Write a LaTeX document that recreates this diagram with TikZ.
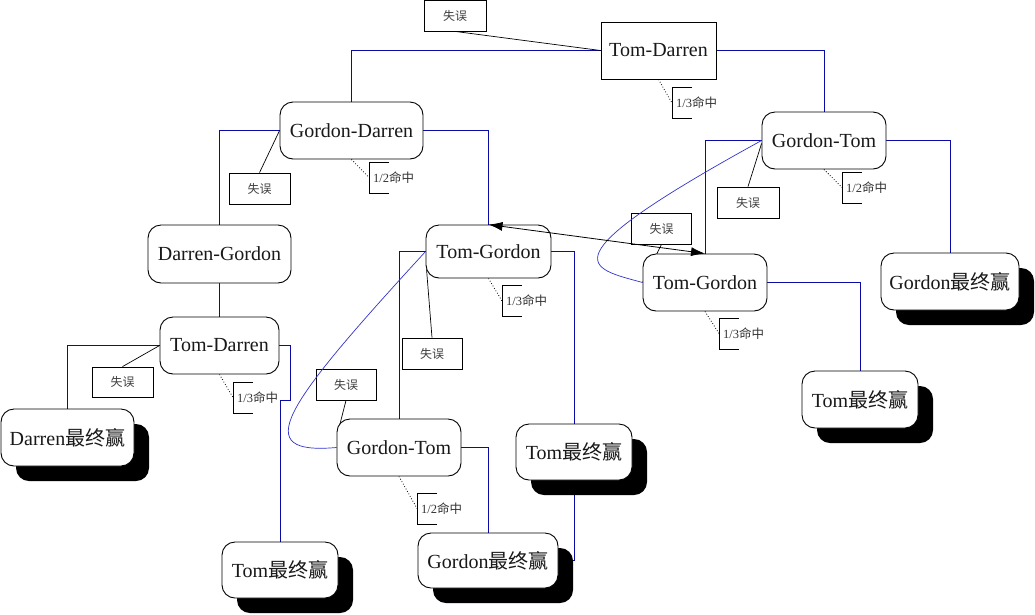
\documentclass[tikz,border=0pt]{standalone}
\usepackage{fontspec}
\setmainfont{Liberation Serif}
\newfontfamily\cjkfont{Noto Sans CJK SC}
\newcommand\zhtext[1]{{\cjkfont #1}}
\usetikzlibrary{shadows,arrows.meta,calc}
\pgfdeclarelayer{bg}
\pgfsetlayers{bg,main}
\definecolor{navyline}{RGB}{10,10,165}
\definecolor{loopblue}{RGB}{50,50,205}
\tikzset{
  statebox/.style={draw=black, line width=0.9pt, fill=white, rounded corners=13pt, inner sep=0pt,
    font=\fontsize{20}{24}\selectfont, text=black!90},
  sqbox/.style={statebox, rounded corners=0pt},
  finalbox/.style={statebox, general shadow={fill=black, shadow xshift=15pt, shadow yshift=-15pt}},
  missbox/.style={draw=black, line width=0.8pt, fill=white, inner sep=0pt, minimum width=61pt,
    minimum height=31pt, font=\fontsize{12}{14}\selectfont, text=black!75},
  flow/.style={draw=navyline, line width=0.9pt},
  loopline/.style={draw=loopblue, line width=0.7pt},
  missline/.style={draw=black, line width=0.7pt},
  dotline/.style={draw=black, line width=0.8pt, dotted},
  pics/hitmark/.style={code={
    \draw[line width=0.8pt] (20,-15.5) -- (0,-15.5) -- (0,15.5) -- (20,15.5);
    \node[anchor=west, inner sep=0pt, font=\fontsize{12.5}{14}\selectfont, text=black!80] at (4,0) {#1};
  }}
}
\begin{document}
\begin{tikzpicture}[x=1pt, y=-1pt]
\useasboundingbox (0,0) rectangle (1035,614);

% state nodes
\node[sqbox, minimum width=115pt, minimum height=57pt] (td1) at (658.5,50.5) {Tom-Darren};
\node[statebox, minimum width=143pt, minimum height=57pt] (gd) at (351.5,130.5) {Gordon-Darren};
\node[statebox, minimum width=124pt, minimum height=57pt] (gt1) at (824,140.5) {Gordon-Tom};
\node[statebox, minimum width=143pt, minimum height=58pt] (dg) at (219.5,254) {Darren-Gordon};
\node[statebox, minimum width=125pt, minimum height=53pt] (tg1) at (488.5,251.5) {Tom-Gordon};
\node[statebox, minimum width=124pt, minimum height=57pt] (tg2) at (705,282.5) {Tom-Gordon};
\node[statebox, minimum width=119pt, minimum height=57pt] (td2) at (219.5,345.5) {Tom-Darren};
\node[statebox, minimum width=124pt, minimum height=57pt] (gt2) at (399,447.5) {Gordon-Tom};

% final nodes
\node[finalbox, minimum width=133pt, minimum height=57pt] (dw) at (67.5,437.5) {Darren\zhtext{最终赢}};
\node[finalbox, minimum width=116pt, minimum height=56pt] (tw1) at (280,570) {Tom\zhtext{最终赢}};
\node[finalbox, minimum width=116pt, minimum height=56pt] (tw2) at (574,452) {Tom\zhtext{最终赢}};
\node[finalbox, minimum width=140pt, minimum height=55pt] (gw2) at (488,560.5) {Gordon\zhtext{最终赢}};
\node[finalbox, minimum width=116pt, minimum height=57pt] (tw3) at (860,399.5) {Tom\zhtext{最终赢}};
\node[finalbox, minimum width=138pt, minimum height=57pt] (gw1) at (950,281.5) {Gordon\zhtext{最终赢}};

% miss boxes
\node[missbox, minimum width=62pt] (m1) at (455,15.5) {\zhtext{失误}};
\node[missbox] (m2) at (259.5,188.5) {\zhtext{失误}};
\node[missbox, minimum width=62pt] (m3) at (748,202.5) {\zhtext{失误}};
\node[missbox, minimum width=60pt] (m4) at (661.5,228.5) {\zhtext{失误}};
\node[missbox, minimum width=60pt] (m5) at (432,353.5) {\zhtext{失误}};
\node[missbox, minimum width=60pt] (m6) at (346,384.5) {\zhtext{失误}};
\node[missbox, minimum height=30pt] (m7) at (122.5,382) {\zhtext{失误}};

% hit brackets
\coordinate (b1) at (672,103);
\coordinate (b2) at (369,177.5);
\coordinate (b3) at (842,187.5);
\coordinate (b4) at (502,301);
\coordinate (b5) at (719,333.5);
\coordinate (b6) at (233,397.5);
\coordinate (b7) at (417,508.5);
\pic at (b1) {hitmark={1/3\zhtext{命中}}};
\pic at (b2) {hitmark={1/2\zhtext{命中}}};
\pic at (b3) {hitmark={1/2\zhtext{命中}}};
\pic at (b4) {hitmark={1/3\zhtext{命中}}};
\pic at (b5) {hitmark={1/3\zhtext{命中}}};
\pic at (b6) {hitmark={1/3\zhtext{命中}}};
\pic at (b7) {hitmark={1/2\zhtext{命中}}};

\begin{pgfonlayer}{bg}
  % tree connectors
  \draw[flow] (td1.west) -| (gd.north);
  \draw[flow] (td1.east) -| (gt1.north);
  \draw[flow] (gd.west) -| (dg.north);
  \draw[flow] (gd.east) -| (tg1.north);
  \draw[flow] (gt1.west) -| (tg2.north);
  \draw[flow] (gt1.east) -| (gw1.north);
  \draw[flow] (dg.south) -- (td2.north);
  \draw[flow] (td2.west) -| (dw.north);
  \draw[flow] (td2.east) -- ++(11,0) -- ++(0,54.5) -| (tw1.north);
  \draw[flow] (tg1.west) -| (gt2.north);
  \draw[flow] (tg1.east) -| (tw2.north);
  \draw[flow] (tw2.south) |- (gw2.east);
  \draw[flow] (gt2.east) -| (gw2.north);
  \draw[flow] (tg2.east) -| (tw3.north);
  % miss lines
  \draw[missline] (m1.south) -- (td1.west);
  \draw[missline] (m2.north) -- (gd.west);
  \draw[missline] (m3.north) -- ([yshift=-3pt]gt1.west);
  \draw[missline] (m4.south) -- (tg2.west);
  \draw[missline] (m5.north) -- ([shift={(1,18)}]tg1.west);
  \draw[missline] (m6.south) -- ([shift={(1,-14)}]gt2.west);
  \draw[missline] (m7.north) -- (td2.west);
  % hit dotted lines
  \draw[dotline] (td1.south) -- (b1);
  \draw[dotline] (gd.south) -- (b2);
  \draw[dotline] (gt1.south) -- (b3);
  \draw[dotline] (tg1.south) -- (b4);
  \draw[dotline] (tg2.south) -- (b5);
  \draw[dotline] (td2.south) -- (b6);
  \draw[dotline] (gt2.south) -- (b7);
\end{pgfonlayer}

% loops
\draw[loopline] (gt1.west) .. controls (540,262) and (590,268) .. (tg2.west);
\draw[loopline] (tg1.west) .. controls (280,410) and (250,455) .. (gt2.west);

% double arrow
\draw[line width=0.8pt, {Latex[length=14pt,width=9pt]}-{Latex[length=14pt,width=9pt]}] (tg1.north) -- (tg2.north);
\end{tikzpicture}
\end{document}
